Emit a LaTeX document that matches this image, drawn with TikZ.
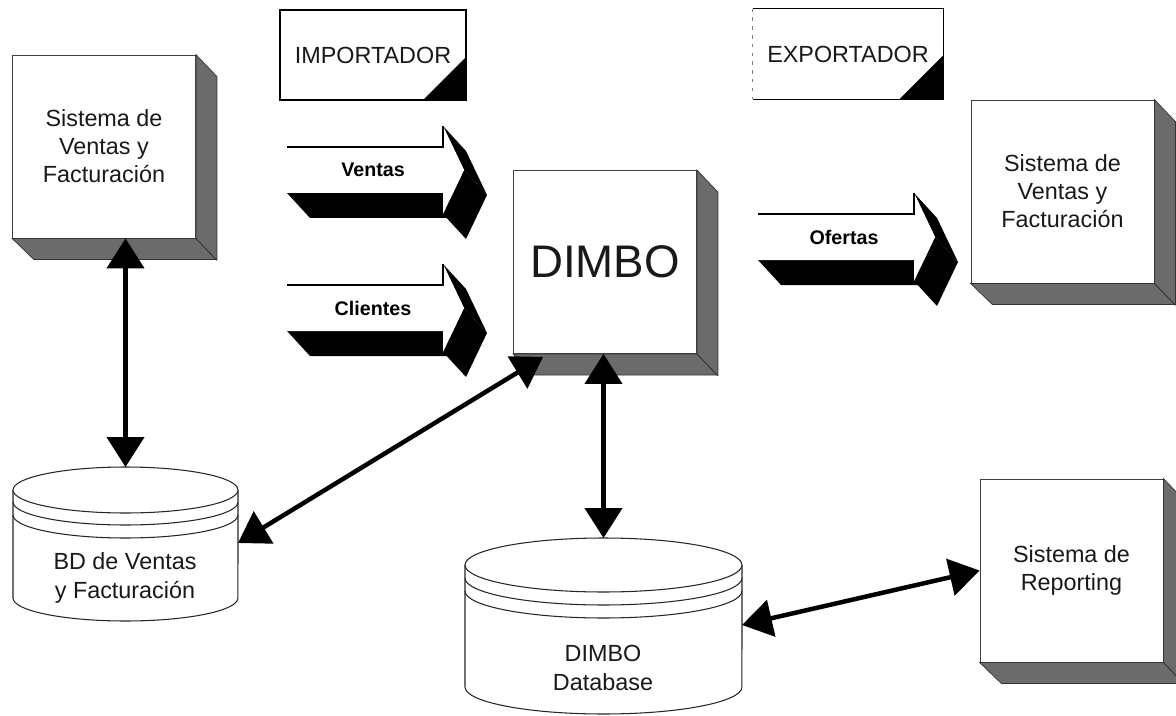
\documentclass[tikz,border=0pt]{standalone}
\usepackage{fontspec}
\setmainfont{Liberation Sans}
\usetikzlibrary{arrows.meta,calc}

% 3D depth (right and bottom faces) behind a square system box
\newcommand\drawdepth[1]{%
  \fill[shade3d] (#1.north east) -- ++(21,22) -- ++(0,183) -- ++(-183,0)
    -- (#1.south west) -- (#1.south east) -- cycle;
  \draw[black!85, line width=0.4pt] (#1.south east) -- ++(21,22);
}

\begin{document}
\begin{tikzpicture}[x=0.02cm,y=-0.02cm,
  txt/.style={font=\fontsize{13.3}{16}\selectfont, align=center, text=black!90},
  sysbox/.style={draw=black!75, line width=0.5pt, fill=white,
    minimum width=3.66cm, minimum height=3.66cm, inner sep=0pt, txt},
  shade3d/.style={fill=black!58, draw=black!80, line width=0.4pt},
  toolbox/.style={fill=white, minimum height=1.8cm, inner sep=0pt, txt},
  cyl/.style={draw=black!85, line width=0.6pt, fill=white},
  link/.style={line width=0.09cm,
    {Triangle[length=0.6cm,width=0.74cm]}-{Triangle[length=0.6cm,width=0.74cm]}},
  flowarrow/.pic={
    % dark faces of the extruded block arrow
    \fill[black] (-156,46) -- (0,46) -- (23,71) -- (-133,71) -- cycle;
    \fill[black] (0,-21) -- (21,23) -- (44,48) -- (23,4) -- cycle;
    \fill[black] (21,23) -- (0,67) -- (23,92) -- (44,48) -- cycle;
    % light front face
    \fill[white] (-156,0) -- (0,0) -- (0,-21) -- (21,23) -- (0,67)
      -- (0,46) -- (-156,46) -- cycle;
    \draw[line width=0.7pt] (-156,0) -- (0,0) -- (0,-21);
    \node[font=\bfseries\fontsize{11.2}{13}\selectfont] (-label) at (-70,23) {#1};
  }
]
\fill[white] (0,0) rectangle (1176,716);
\useasboundingbox (0,0) rectangle (1176,716);

% importer / exporter tools
\node[toolbox, minimum width=3.72cm, draw=black, line width=0.6pt] (imp) at (373,55) {IMPORTADOR};
\fill (imp.south east) -- ++(0,-44) -- ++(-44,44) -- cycle;

\node[toolbox, minimum width=3.8cm] (exp) at (848,54) {EXPORTADOR};
\draw[line width=0.6pt] (exp.north west) -- (exp.north east) -- (exp.south east) -- (exp.south west);
\draw[black!50, line width=0.4pt, dash pattern=on 2pt off 3pt] (exp.north west) -- (exp.south west);
\fill (exp.south east) -- ++(0,-44) -- ++(-44,44) -- cycle;

% systems
\node[sysbox] (lsys) at (104,146.5) {Sistema de\\Ventas y\\Facturación};
\drawdepth{lsys}
\node[sysbox, font=\fontsize{26}{30}\selectfont] (dimbo) at (605,262) {DIMBO};
\drawdepth{dimbo}
\node[sysbox] (rsys) at (1062.5,191.5) {Sistema de\\Ventas y\\Facturación};
\drawdepth{rsys}
\node[sysbox] (rep) at (1071.5,570.5) {Sistema de\\Reporting};
\drawdepth{rep}

% database: BD de Ventas y Facturacion
\filldraw[cyl] (13,490) -- (13,598)
  arc[start angle=180, end angle=360, x radius=2.25cm, y radius=0.46cm] -- (238,490);
\filldraw[cyl] (125.5,490) ellipse [x radius=2.25cm, y radius=0.46cm];
\draw[cyl, fill=none] (13,502) arc[start angle=180, end angle=360, x radius=2.25cm, y radius=0.46cm];
\draw[cyl, fill=none] (13,515) arc[start angle=180, end angle=360, x radius=2.25cm, y radius=0.46cm];
\node[txt] (bd) at (125,578) {BD de Ventas\\y Facturación};
\coordinate (bdtop) at (125.5,467);
\coordinate (bdright) at (238,543);

% database: DIMBO Database
\filldraw[cyl] (465,565) -- (465,687)
  arc[start angle=180, end angle=360, x radius=2.77cm, y radius=0.54cm] -- (742,565);
\filldraw[cyl] (603.5,565) ellipse [x radius=2.77cm, y radius=0.54cm];
\draw[cyl, fill=none] (465,578) arc[start angle=180, end angle=360, x radius=2.77cm, y radius=0.54cm];
\draw[cyl, fill=none] (465,591) arc[start angle=180, end angle=360, x radius=2.77cm, y radius=0.54cm];
\node[txt] (db) at (603,668) {DIMBO\\Database};
\coordinate (dbtop) at (603.5,538);
\coordinate (dbright) at (742,625);

% data flows
\pic (ventas) at (443,147) {flowarrow=Ventas};
\pic (clientes) at (443,285) {flowarrow=Clientes};
\pic (ofertas) at (914,214) {flowarrow=Ofertas};

% links
\draw[link] (lsys.south -| bdtop) -- (bdtop);
\draw[link] (bdright) -- ($(dimbo.south west)+(30,3)$);
\draw[link] (dimbo.south -| dbtop) -- (dbtop);
\draw[link] (dbright) -- (rep.west);
\end{tikzpicture}
\end{document}
